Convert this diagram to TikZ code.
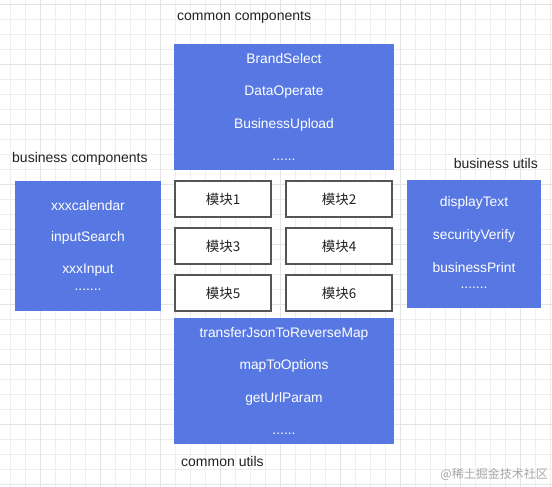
\documentclass[tikz,border=0pt]{standalone}
\usepackage{fontspec}
\setmainfont{Liberation Sans}
\newfontfamily\cjk{Noto Sans CJK SC}
\definecolor{boxblue}{HTML}{5778E2}
\definecolor{gridminor}{HTML}{EEEEEE}
\definecolor{gridmajor}{HTML}{E4E4E4}
\definecolor{modline}{HTML}{555555}
\definecolor{txt}{HTML}{222222}
\begin{document}
\begin{tikzpicture}[x=1pt,y=-1pt,
  bluebox/.style={fill=boxblue,draw=none,inner sep=0pt},
  wtxt/.style={text=white,font=\fontsize{13.8}{16}\selectfont,inner sep=0pt},
  modbox/.style={draw=modline,line width=1.6pt,fill=white,minimum height=36pt,inner sep=0pt,font=\cjk\fontsize{13.5}{16}\selectfont,text=txt},
  lbl/.style={text=txt,font=\fontsize{14}{16}\selectfont,inner sep=0pt}]
\useasboundingbox (0,0) rectangle (552,487);
\fill[white] (0,0) rectangle (552,487);
% grid
\foreach \i in {0,...,36} {\draw[gridminor,line width=0.7pt] (10.5+15*\i,0) -- (10.5+15*\i,487);}
\foreach \j in {0,...,32} {\draw[gridminor,line width=0.7pt] (0,4.5+15*\j) -- (552,4.5+15*\j);}
\foreach \i in {0,...,9} {\draw[gridmajor,line width=0.8pt] (40.5+60*\i,0) -- (40.5+60*\i,487);}
\foreach \j in {0,...,8} {\draw[gridmajor,line width=0.8pt] (0,4.5+60*\j) -- (552,4.5+60*\j);}
% top box
\node[bluebox,minimum width=220pt,minimum height=126pt] (cc) at (284,107) {};
\node[lbl,anchor=west] (cclbl) at (177,17) {common components};
\node[wtxt] (cc1) at (284,59) {BrandSelect};
\node[wtxt] (cc2) at (284,92) {DataOperate};
\node[wtxt] (cc3) at (284,125) {BusinessUpload};
\node[wtxt,anchor=base] (cc4) at (284,160) {......};
% left box
\node[bluebox,minimum width=146pt,minimum height=130pt] (bc) at (88,246) {};
\node[lbl,anchor=west] (bclbl) at (12,159) {business components};
\node[wtxt] (bc1) at (88,206) {xxxcalendar};
\node[wtxt] (bc2) at (88,238) {inputSearch};
\node[wtxt] (bc3) at (88,270) {xxxInput};
\node[wtxt,anchor=base] (bc4) at (88,290) {.......};
% right box
\node[bluebox,minimum width=134pt,minimum height=128pt] (bu) at (474,244) {};
\node[lbl,anchor=east] (bulbl) at (538,163) {business utils};
\node[wtxt] (bu1) at (474,203) {displayText};
\node[wtxt] (bu2) at (474,236) {securityVerify};
\node[wtxt] (bu3) at (474,268) {businessPrint};
\node[wtxt,anchor=base] (bu4) at (474,288) {.......};
% modules
\node[modbox,minimum width=96pt] (m1) at (223,199) {模块1};
\node[modbox,minimum width=106pt] (m2) at (339,199) {模块2};
\node[modbox,minimum width=96pt] (m3) at (223,246) {模块3};
\node[modbox,minimum width=106pt] (m4) at (339,246) {模块4};
\node[modbox,minimum width=96pt] (m5) at (223,293) {模块5};
\node[modbox,minimum width=106pt] (m6) at (339,293) {模块6};
% bottom box
\node[bluebox,minimum width=220pt,minimum height=126pt] (cu) at (284,381) {};
\node[wtxt] (cu1) at (284,334) {transferJsonToReverseMap};
\node[wtxt] (cu2) at (284,366) {mapToOptions};
\node[wtxt] (cu3) at (284,399) {getUrlParam};
\node[wtxt,anchor=base] (cu4) at (284,434) {......};
\node[lbl,anchor=west] (culbl) at (181,461) {common utils};
% watermark
\node[anchor=east,inner sep=0pt,text=black!35,font=\cjk\fontsize{12}{14}\selectfont] (wm) at (548,474) {@稀土掘金技术社区};
\end{tikzpicture}
\end{document}
